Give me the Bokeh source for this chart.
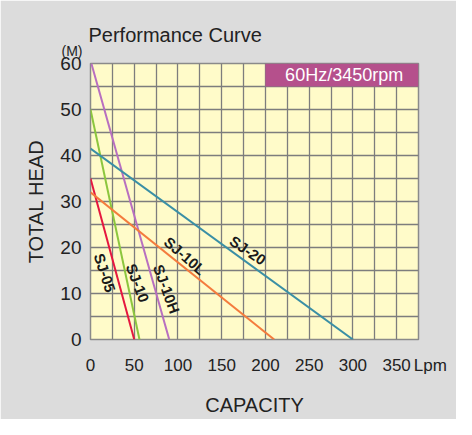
from bokeh.plotting import figure
from bokeh.models import FixedTicker, Label, BoxAnnotation, Title
from bokeh.embed import file_html
from bokeh.resources import INLINE

# ---- data ----
models = ["SJ-05", "SJ-10", "SJ-10H", "SJ-10L", "SJ-20"]
flow = [[0, 50], [0, 56], [1, 90], [0, 210], [0, 300]]
head = [[35, 0], [50, 0], [60, 0], [32, 0], [41.5, 0]]
colors = ["#e5173f", "#8cc63e", "#b86fc0", "#f47b3d", "#3a8fa5"]
label_x = [16.5, 54, 87, 108, 180]
label_y = [14.5, 12.3, 11, 18.2, 19.4]
label_angle = [-72, -69, -70, -41, -34]
x_ticks = [0, 50, 100, 150, 200, 250, 300, 350, 375]
x_tick_labels = {375: "\u00a0\u00a0\u00a0\u00a0\u00a0Lpm"}
y_ticks = [0, 10, 20, 30, 40, 50, 60]

FONT = "Liberation Sans"
TXT = "#222222"

p = figure(width=456, height=419, x_range=(0, 375), y_range=(0, 60),
           output_backend="svg", toolbar_location=None,
           min_border_left=90, min_border_right=38, min_border_top=63,
           min_border_bottom=80)
p.title_location = None
p.border_fill_color = "#dcdcdc"
p.background_fill_color = "#fffbc9"
p.outline_line_color = "#8a8a8a"
p.outline_line_width = 1.5

p.add_layout(Title(text="(M)", text_font=FONT, text_font_size="14px",
                   text_font_style="normal", text_color=TXT, align="left",
                   offset=-29, standoff=9), "above")
p.add_layout(Title(text="Performance Curve", text_font=FONT,
                   text_font_size="20px", text_font_style="normal",
                   text_color=TXT, align="left", offset=-2, standoff=-19),
             "above")

for ax in (p.xaxis[0], p.yaxis[0]):
    ax.axis_line_color = None
    ax.major_tick_line_color = None
    ax.minor_tick_line_color = None
    ax.major_label_text_font = FONT
    ax.major_label_text_color = TXT
    ax.axis_label_text_font = FONT
    ax.axis_label_text_font_style = "normal"
    ax.axis_label_text_color = TXT

p.xaxis.ticker = FixedTicker(ticks=x_ticks)
p.xaxis.major_label_overrides = x_tick_labels
p.yaxis.ticker = FixedTicker(ticks=y_ticks)
p.xaxis.major_label_text_font_size = "17px"
p.yaxis.major_label_text_font_size = "19px"
p.xaxis.major_label_standoff = 10
p.yaxis.major_label_standoff = 3
p.xaxis.axis_label = "CAPACITY"
p.yaxis.axis_label = "TOTAL HEAD"
p.xaxis.axis_label_text_font_size = "20px"
p.yaxis.axis_label_text_font_size = "20px"
p.xaxis.axis_label_standoff = 16
p.yaxis.axis_label_standoff = 10

p.xgrid.ticker = FixedTicker(ticks=list(range(0, 376, 25)))
p.ygrid.ticker = FixedTicker(ticks=list(range(0, 61, 5)))
for g in (p.xgrid[0], p.ygrid[0]):
    g.grid_line_color = "#7d7d7d"
    g.grid_line_width = 1.3

for xs, ys, c in zip(flow, head, colors):
    p.line(xs, ys, line_color=c, line_width=2)

for name, lx, ly, ang in zip(models, label_x, label_y, label_angle):
    p.add_layout(Label(x=lx, y=ly, text=name, angle=ang, angle_units="deg",
                       text_align="center", text_baseline="middle",
                       text_font=FONT, text_font_style="bold",
                       text_font_size="15px", text_color="#1a1a1a"))

p.add_layout(BoxAnnotation(left=200, right=375, bottom=55, top=60,
                           fill_color="#b5508c", fill_alpha=1.0,
                           line_color=None))
p.add_layout(Label(x=290, y=57.4, text="60Hz/3450rpm", text_align="center",
                   text_baseline="middle", text_font=FONT,
                   text_font_size="18px", text_color="white"))

open("out.html", "w").write(file_html(p, INLINE))
